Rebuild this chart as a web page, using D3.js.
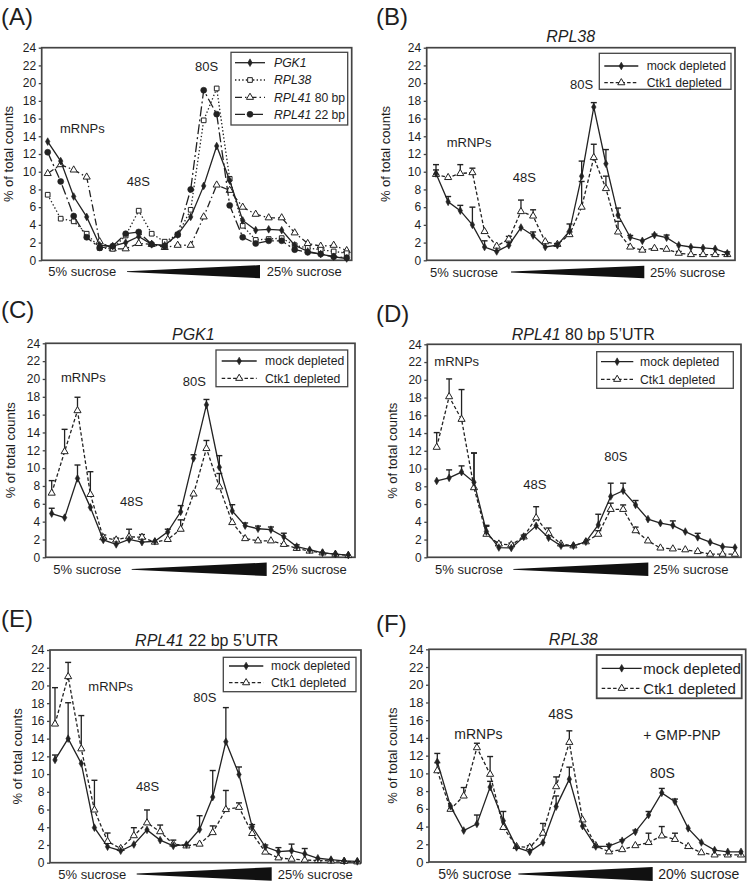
<!DOCTYPE html>
<html><head><meta charset="utf-8">
<script src="https://cdn.jsdelivr.net/npm/d3@7"></script>
<style>
body{margin:0;background:#fff}
svg{display:block}
text{font-family:"Liberation Sans",Arial,Helvetica,sans-serif;fill:#1e1e1e}
</style>
</head><body>
<svg id="chart" width="750" height="883"></svg>
<script>
// ---------- DATA ----------
const fractions24 = [1,2,3,4,5,6,7,8,9,10,11,12,13,14,15,16,17,18,19,20,21,22,23,24];
const fractions25 = [1,2,3,4,5,6,7,8,9,10,11,12,13,14,15,16,17,18,19,20,21,22,23,24,25];
const yTickValues = [0,2,4,6,8,10,12,14,16,18,20,22,24];

// Panel A
const aPGK1    = [13.4,11.2,7.2,4.9,1.7,1.6,2.0,2.7,1.8,1.7,2.9,4.9,8.4,12.9,9.0,4.5,3.4,3.5,3.4,1.7,1.0,0.7,0.4,0.2];
const aRPL38   = [7.4,4.7,4.4,3.0,1.4,1.3,2.8,5.6,3.0,2.1,2.9,5.7,15.8,19.4,9.2,3.9,2.3,2.4,2.5,1.7,1.4,1.2,1.0,0.8];
const aRPL41_80= [9.8,10.8,10.2,9.4,2.1,1.3,1.3,1.9,1.8,1.45,1.7,1.7,4.9,8.5,7.9,6.0,5.2,4.8,4.8,3.1,1.9,1.6,1.7,1.1];
const aRPL41_22= [12.2,8.9,5.0,2.6,1.4,1.6,3.0,3.2,1.8,1.6,2.9,8.0,19.2,16.5,6.2,2.6,1.9,2.2,2.2,1.2,0.9,0.7,0.4,0.3];

// Panel B (RPL38)
const bMock    = [9.8,6.6,5.6,4.0,1.5,1.0,1.7,3.7,2.8,1.5,1.7,3.3,9.5,17.3,10.9,5.1,2.6,2.2,2.85,2.55,1.7,1.5,1.4,1.3,0.8];
const bMockErr = [1.0,0.6,0.6,2.0,0.7,0,0.3,0,0.4,0,0.2,0.8,1.7,0.5,1.6,0.8,0.2,0,0.1,0.3,0,0,0,0,0];
const bCtk     = [9.7,9.35,9.8,9.9,3.25,1.6,2.4,5.5,5.0,2.1,1.8,2.9,6.0,11.6,8.1,3.2,1.5,1.15,1.35,1.25,0.8,0.65,0.65,0.65,0.65];
const bCtkErr  = [0.5,0,1.0,0.5,0,0,0.3,1.3,0.7,0,0,0.3,2.9,1.5,1.4,1.2,0,0,0,0,0.2,0,0,0,0.3];

// Panel C (PGK1)
const cMock    = [4.9,4.45,8.85,5.6,1.95,1.45,2.0,1.7,1.8,2.85,5.1,11.1,17.1,10.1,5.2,3.55,3.2,3.1,2.3,1.2,0.85,0.5,0.35,0.25];
const cMockErr = [0.6,0,1.5,0,0,0,0,0,0,0.3,0.7,0.4,0.6,1.3,0.7,0.3,0.3,0.3,0.4,0.2,0,0,0,0];
const cCtk     = [7.2,11.85,16.45,7.05,2.2,1.95,2.3,2.25,1.7,2.0,3.15,7.1,12.2,7.9,3.9,2.1,1.85,1.85,1.45,1.0,0.7,0.5,0.35,0.2];
const cCtkErr  = [1.4,2.5,1.5,2.55,0.3,0.2,0.85,0.3,0,0,1.05,0,0.9,1.5,0,0,0,0,0,0,0,0,0,0];

// Panel D (RPL41 80 bp)
const dMock    = [8.6,8.95,9.6,8.45,2.9,1.1,1.05,2.3,3.55,2.2,1.3,1.3,1.75,3.65,6.85,7.5,5.9,4.3,3.85,3.6,2.9,2.25,1.7,1.2,1.1];
const dMockErr = [0,0.9,0.7,3.3,0.7,0,0,0,0,0,0,0,0,1.2,1.5,0.85,0.5,0,0,0.5,0,0.45,0,0,0];
const dCtk     = [12.4,18.1,15.55,7.85,2.6,1.5,1.4,2.3,4.45,2.7,1.5,1.3,1.75,2.6,5.4,5.4,3.0,1.85,1.05,0.95,0.85,0.65,0.35,0.35,0.35];
const dCtkErr  = [1.65,2.0,3.35,3.9,0.9,0.2,0.2,0.2,1.25,0.6,0,0,0,0.4,0.7,0.5,0.4,0,0,0,0,0,0,0,0];

// Panel E (RPL41 22 bp)
const eMock    = [11.6,14.0,11.2,3.95,1.8,1.35,2.05,3.7,2.55,1.9,2.05,3.75,7.4,13.65,9.95,4.05,1.8,1.25,1.35,1.0,0.5,0.35,0.2,0.15];
const eMockErr = [0.55,4.05,0,0,0,0,0,0,0,0,0,1.55,3.0,3.85,0.85,0.25,0.2,0.45,0.75,0.6,0,0,0,0];
const eCtk     = [15.65,21.0,12.85,5.95,2.4,1.6,3.05,4.5,3.5,2.1,1.9,2.1,3.4,6.0,6.25,3.3,1.2,0.55,0.4,0.3,0.25,0.2,0.15,0.1];
const eCtkErr  = [4.1,1.6,3.75,3.35,0.95,0,0.9,1.45,0.75,0.45,0,0,0.75,2.15,0.5,0,0,0,0,0,0,0,0,0];

// Panel F (RPL38 + GMP-PNP)
const fMock    = [11.3,6.3,3.55,4.3,8.45,4.65,1.65,1.15,2.2,6.25,9.35,4.05,1.75,1.8,2.4,3.4,5.3,7.8,6.8,3.8,2.2,1.35,1.15,1.15];
const fMockErr = [0.95,0,0,1.0,0.65,1.05,0,0,0,1.2,1.35,0,0,0.2,0.1,0.2,0.4,0.5,0.3,0,0,0,0,0];
const fCtk     = [10.3,5.95,7.45,12.9,9.9,3.9,1.75,1.65,3.25,8.5,13.5,4.75,1.85,1.15,1.4,1.85,2.2,2.95,2.55,1.75,1.05,0.8,0.8,0.8];
const fCtkErr  = [0.9,0,0.95,0.5,2.0,0,0,0.2,1.1,1.1,1.3,0,0,0,0,0,1.05,1.05,0.7,0,0,0,0,0];

// ---------- STYLES ----------
const INK = "#222";
const styles = {
  solidDiamond: {dash:null, marker:"diamond"},
  dashTriangle: {dash:"3.5,2.2", marker:"triangle"},
  dotSquare:    {dash:"1.4,2.2", marker:"square"},
  dashDotTri:   {dash:"7,3,1.5,3", marker:"triangle"},
  longDashDotCircle: {dash:"10,3,2,3", marker:"circle"}
};

const svg = d3.select("#chart");

function drawMarker(g, type, cx, cy) {
  let sym, fill;
  if (type === "diamond") { sym = d3.symbol(d3.symbolDiamond, 17); fill = INK; }
  else if (type === "triangle") { sym = d3.symbol(d3.symbolTriangle, 22); fill = "#fff"; }
  else if (type === "square") { sym = d3.symbol(d3.symbolSquare, 22); fill = "#fff"; }
  else { sym = d3.symbol(d3.symbolCircle, 28); fill = INK; }
  g.append("path").attr("d", sym()).attr("transform", `translate(${cx},${cy})`)
    .attr("fill", fill).attr("stroke", INK).attr("stroke-width", type==="diamond"||type==="circle"?0.6:1.0);
}

function drawPanel(p) {
  const g = svg.append("g");
  const x = d3.scalePoint().domain(p.cats).range(p.ptRange);
  const y = d3.scaleLinear().domain([0,24]).range([p.bottom, p.top]);

  // axis
  const ax = d3.axisLeft(y).tickValues(yTickValues).tickSize(3).tickPadding(2.5);
  const axg = g.append("g").attr("transform", `translate(${p.left},0)`).call(ax);
  axg.select(".domain").remove();
  axg.selectAll(".tick line").attr("stroke", "#444").attr("stroke-width", 1.3);
  axg.selectAll(".tick text").attr("font-size", p.tickFont || 12).attr("fill", "#1e1e1e")
     .attr("font-family", '"Liberation Sans",Arial,sans-serif');

  // frame
  g.append("rect").attr("x", p.left).attr("y", p.top).attr("width", p.right - p.left)
   .attr("height", p.bottom - p.top).attr("fill", "none").attr("stroke", "#444").attr("stroke-width", 1.7);

  // series
  p.series.forEach(s => {
    const st = styles[s.style];
    const line = d3.line().x((d,i) => x(p.cats[i])).y(d => y(d));
    g.append("path").datum(s.values).attr("d", line).attr("fill", "none")
      .attr("stroke", INK).attr("stroke-width", 1.3)
      .attr("stroke-dasharray", st.dash);
    if (s.errors) {
      s.values.forEach((v,i) => {
        const e = s.errors[i];
        if (!e) return;
        const cx = x(p.cats[i]);
        g.append("line").attr("x1", cx).attr("x2", cx).attr("y1", y(v)).attr("y2", y(v+e))
          .attr("stroke", INK).attr("stroke-width", 1.3);
        g.append("line").attr("x1", cx-3).attr("x2", cx+3).attr("y1", y(v+e)).attr("y2", y(v+e))
          .attr("stroke", INK).attr("stroke-width", 1.4);
      });
    }
    s.values.forEach((v,i) => drawMarker(g, st.marker, x(p.cats[i]), y(v)));
  });

  // legend
  const L = p.legend;
  g.append("rect").attr("x", L.x).attr("y", L.y).attr("width", L.w).attr("height", L.h)
    .attr("fill", "#fff").attr("stroke", "#444").attr("stroke-width", L.bw || 1.3);
  L.items.forEach((it, k) => {
    const ry = L.rows[k];
    const st = styles[it.style];
    g.append("line").attr("x1", L.lx0).attr("x2", L.lx1).attr("y1", ry).attr("y2", ry)
      .attr("stroke", INK).attr("stroke-width", 1.3).attr("stroke-dasharray", st.dash);
    drawMarker(g, st.marker, (L.lx0+L.lx1)/2, ry);
    const t = g.append("text").attr("x", L.tx).attr("y", ry + (L.font||12.2)*0.36)
      .attr("font-size", L.font || 12.2);
    it.parts.forEach(pt => t.append("tspan").text(pt[0]).attr("font-style", pt[1] ? "italic" : "normal"));
  });

  // annotations
  p.notes.forEach(n => g.append("text").attr("x", n[1]).attr("y", n[2])
    .attr("font-size", p.noteFont || 13).text(n[0]));

  // title
  if (p.title) {
    const t = g.append("text").attr("x", p.title.x).attr("y", p.title.y)
      .attr("text-anchor", "middle").attr("font-size", 16);
    p.title.parts.forEach(pt => t.append("tspan").text(pt[0]).attr("font-style", pt[1] ? "italic" : "normal"));
  }

  // panel label
  g.append("text").attr("x", p.label.x).attr("y", p.label.y).attr("font-size", 24).text(p.label.t);

  // y axis title
  g.append("text").attr("transform", `translate(${p.yt.x},${(p.top+p.bottom)/2}) rotate(-90)`)
    .attr("text-anchor", "middle").attr("font-size", p.ytFont || 13).text("% of total counts");

  // sucrose labels + wedge
  const W = p.wedge;
  g.append("text").attr("x", W.l1x).attr("y", W.ty).attr("font-size", p.noteFont || 13).text("5% sucrose");
  g.append("text").attr("x", W.l2x).attr("y", W.ty).attr("font-size", p.noteFont || 13).text(W.l2);
  g.append("path").attr("d", `M${W.x0},${W.cy-0.4} L${W.x1},${W.cy-W.half} L${W.x1},${W.cy+W.half} L${W.x0},${W.cy+0.4} Z`)
    .attr("fill", "#111");
}

const legPGK = {
  items: [
    {style:"solidDiamond", parts:[["PGK1",true]]},
    {style:"dotSquare", parts:[["RPL38",true]]},
    {style:"dashDotTri", parts:[["RPL41",true],[" 80 bp",false]]},
    {style:"longDashDotCircle", parts:[["RPL41",true],[" 22 bp",false]]}
  ]
};
const mockCtkItems = [
  {style:"solidDiamond", parts:[["mock depleted",false]]},
  {style:"dashTriangle", parts:[["Ctk1 depleted",false]]}
];

const panels = [
  { // A
    cats: fractions24, left:41.7, right:351.7, top:47.7, bottom:260.3, ptRange:[47.7,346.7],
    series: [
      {values:aRPL41_80, style:"dashDotTri"},
      {values:aRPL38, style:"dotSquare"},
      {values:aRPL41_22, style:"longDashDotCircle"},
      {values:aPGK1, style:"solidDiamond"}
    ],
    legend: Object.assign({x:231, y:52.3, w:116.7, h:72.7, rows:[62.7,80,97.3,114.3], lx0:235, lx1:265, tx:274}, legPGK),
    notes: [["mRNPs",60,133],["48S",126.7,186],["80S",195,71]],
    title: null, label:{t:"(A)", x:1, y:25}, yt:{x:13.3},
    wedge:{l1x:48.3, l2x:266.7, l2:"25% sucrose", ty:275.5, x0:127, x1:260, cy:271.7, half:6.6}
  },
  { // B
    cats: fractions25, left:426.7, right:735, top:47.7, bottom:260.3, ptRange:[436,727.3],
    series: [
      {values:bCtk, errors:bCtkErr, style:"dashTriangle"},
      {values:bMock, errors:bMockErr, style:"solidDiamond"}
    ],
    legend:{x:599.3, y:53.3, w:131.7, h:36, rows:[66,82.7], lx0:604.3, lx1:638.3, tx:646.7, items:mockCtkItems},
    notes: [["mRNPs",446.7,146.7],["48S",512.7,181.7],["80S",570,89.3]],
    title:{x:570.7, y:41.7, parts:[["RPL38",true]]}, label:{t:"(B)", x:376, y:25}, yt:{x:390},
    wedge:{l1x:430, l2x:650, l2:"25% sucrose", ty:276.7, x0:511, x1:644.3, cy:272, half:6.3}
  },
  { // C
    cats: fractions24, left:45.7, right:355, top:343.3, bottom:557.3, ptRange:[51.7,348.3],
    series: [
      {values:cCtk, errors:cCtkErr, style:"dashTriangle"},
      {values:cMock, errors:cMockErr, style:"solidDiamond"}
    ],
    legend:{x:216, y:350, w:131.7, h:36.7, rows:[361,378.3], lx0:221.7, lx1:256.7, tx:265, items:mockCtkItems},
    notes: [["mRNPs",61,381.7],["48S",120,506],["80S",182.7,386]],
    title:{x:193.3, y:340, parts:[["PGK1",true]]}, label:{t:"(C)", x:1, y:318}, yt:{x:15},
    wedge:{l1x:53.3, l2x:271.7, l2:"25% sucrose", ty:573.8, x0:131.7, x1:266.7, cy:569.3, half:6.7}
  },
  { // D
    cats: fractions25, left:427.3, right:741, top:344.3, bottom:557.3, ptRange:[436.7,735],
    series: [
      {values:dCtk, errors:dCtkErr, style:"dashTriangle"},
      {values:dMock, errors:dMockErr, style:"solidDiamond"}
    ],
    legend:{x:596.7, y:351.7, w:136.6, h:36.6, rows:[361.7,379.3], lx0:601, lx1:633.3, tx:640, items:mockCtkItems},
    notes: [["mRNPs",434.3,366],["48S",523.3,489.3],["80S",604.3,460.7]],
    title:{x:583.3, y:340, parts:[["RPL41",true],[" 80 bp 5\u2019UTR",false]]}, label:{t:"(D)", x:376, y:321.7}, yt:{x:396.7},
    wedge:{l1x:435, l2x:653.3, l2:"25% sucrose", ty:573.8, x0:513.3, x1:648.3, cy:569.3, half:6.7}
  },
  { // E
    cats: fractions24, left:50, right:361, top:650, bottom:862.7, ptRange:[55,357.3],
    series: [
      {values:eCtk, errors:eCtkErr, style:"dashTriangle"},
      {values:eMock, errors:eMockErr, style:"solidDiamond"}
    ],
    legend:{x:223.3, y:657.3, w:132.7, h:34.4, rows:[666,682.7], lx0:229, lx1:263.3, tx:271, items:mockCtkItems},
    notes: [["mRNPs",88.3,690.7],["48S",136,791],["80S",193.3,701.7]],
    title:{x:206.7, y:645.7, parts:[["RPL41",true],[" 22 bp 5\u2019UTR",false]]}, label:{t:"(E)", x:1, y:626.7}, yt:{x:21.7},
    wedge:{l1x:58.3, l2x:277.7, l2:"25% sucrose", ty:878.5, x0:136.7, x1:271.7, cy:874, half:6.8}
  },
  { // F
    cats: fractions24, left:429, right:745.7, top:649.3, bottom:862, ptRange:[437.3,741],
    series: [
      {values:fCtk, errors:fCtkErr, style:"dashTriangle"},
      {values:fMock, errors:fMockErr, style:"solidDiamond"}
    ],
    legend:{x:596.7, y:655, w:145, h:43.3, rows:[668.3,688.3], lx0:601.7, lx1:641.7, tx:643.3, font:15, bw:1.8, items:mockCtkItems},
    notes: [["mRNPs",454.3,739.3],["48S",548.3,719.3],["80S",650,778.3],["+ GMP-PNP",643.3,740]],
    noteFont: 14, tickFont: 13, ytFont: 13,
    title:{x:573.3, y:645, parts:[["RPL38",true]]}, label:{t:"(F)", x:376, y:631.7}, yt:{x:396.7},
    wedge:{l1x:438.3, l2x:658.3, l2:"20% sucrose", ty:878.5, x0:518.3, x1:652.7, cy:874, half:7}
  }
];

panels.forEach(drawPanel);
</script>
</body></html>
